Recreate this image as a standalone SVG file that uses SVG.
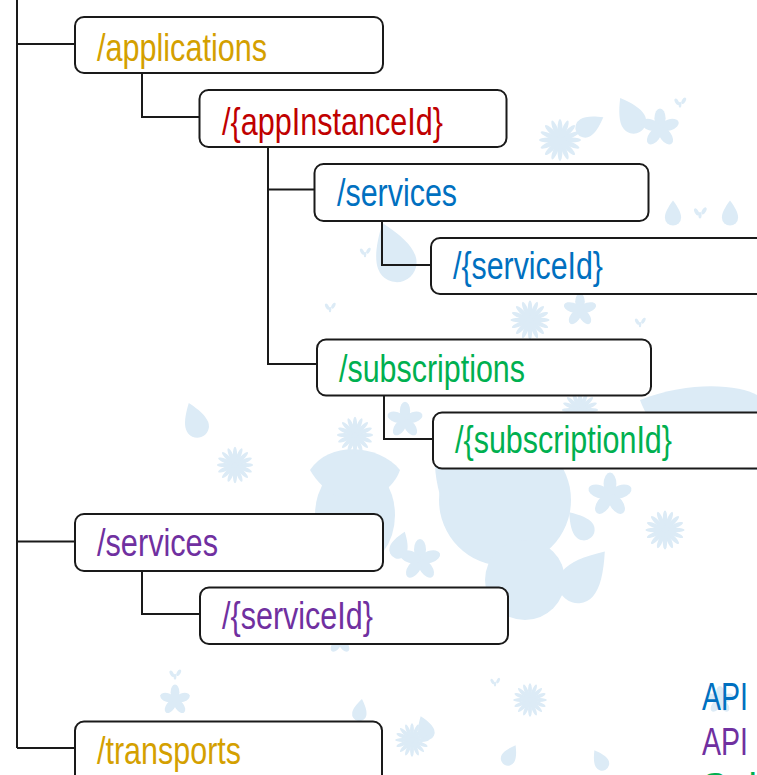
<svg xmlns="http://www.w3.org/2000/svg" xmlns:xlink="http://www.w3.org/1999/xlink" width="757" height="775" viewBox="0 0 757 775">
  <style>
    .box { fill: #ffffff; stroke: #1a1a1a; stroke-width: 2; }
    .wire { fill: none; stroke: #1a1a1a; stroke-width: 2; }
    .lbl { font-family: "Liberation Sans Narrow", "Arial Narrow", "Liberation Sans", Arial, sans-serif; font-size: 38px; }
    .gold { fill: #d4a000; }
    .red { fill: #c00000; }
    .blue { fill: #0070c0; }
    .green { fill: #00b050; }
    .purple { fill: #7030a0; }
    .deco { fill: #dcebf6; }
  </style>
  <defs>
    <!-- five-petal blossom -->
    <g id="blossom">
      <ellipse cx="0" cy="-7" rx="4" ry="7"/>
      <ellipse cx="0" cy="-7" rx="4" ry="7" transform="rotate(72)"/>
      <ellipse cx="0" cy="-7" rx="4" ry="7" transform="rotate(144)"/>
      <ellipse cx="0" cy="-7" rx="4" ry="7" transform="rotate(216)"/>
      <ellipse cx="0" cy="-7" rx="4" ry="7" transform="rotate(288)"/>
    </g>
    <!-- daisy with thin rays -->
    <g id="daisy">
      <circle r="4"/>
      <g id="rays">
        <ellipse cx="0" cy="-8" rx="1.6" ry="6"/>
        <ellipse cx="0" cy="-8" rx="1.6" ry="6" transform="rotate(22.5)"/>
        <ellipse cx="0" cy="-8" rx="1.6" ry="6" transform="rotate(45)"/>
        <ellipse cx="0" cy="-8" rx="1.6" ry="6" transform="rotate(67.5)"/>
      </g>
      <use xlink:href="#rays" transform="rotate(90)"/>
      <use xlink:href="#rays" transform="rotate(180)"/>
      <use xlink:href="#rays" transform="rotate(270)"/>
    </g>
    <!-- teardrop leaf -->
    <path id="drop" d="M0,-14 C6,-6 9,0 9,5 A9,9 0 1 1 -9,5 C-9,0 -6,-6 0,-14Z"/>
    <!-- tiny sprig -->
    <g id="sprig">
      <ellipse cx="-3" cy="0" rx="1.5" ry="3" transform="rotate(-30)"/>
      <ellipse cx="3" cy="-1" rx="1.5" ry="3" transform="rotate(30)"/>
      <ellipse cx="0" cy="4" rx="1.2" ry="2.5"/>
    </g>
  </defs>

  <rect width="757" height="775" fill="#ffffff"/>

  <!-- pale floral backdrop -->
  <g id="backdrop" class="deco">
    <circle cx="505" cy="500" r="66"/>
    <ellipse cx="355" cy="515" rx="40" ry="52"/>
    <circle cx="525" cy="580" r="40"/>
    <path d="M640,400 C690,380 740,385 757,395 L757,470 C720,470 660,455 640,400Z"/>
    <path d="M310,470 C330,440 380,445 400,470 C390,500 340,520 310,470Z"/>
    <use xlink:href="#drop" transform="translate(393,252) scale(2.2) rotate(-20)"/>
    <use xlink:href="#drop" transform="translate(455,470) scale(2.6) rotate(200)"/>
    <use xlink:href="#drop" transform="translate(585,575) scale(2.2) rotate(40)"/>
    <use xlink:href="#drop" transform="translate(673,213) scale(0.9)"/>
    <use xlink:href="#drop" transform="translate(730,213) scale(0.9)"/>
    <use xlink:href="#drop" transform="translate(630,115) scale(1.4) rotate(-30)"/>
    <use xlink:href="#drop" transform="translate(590,125) scale(1.1) rotate(60)"/>
    <use xlink:href="#drop" transform="translate(195,420) scale(1.3) rotate(-20)"/>
    <use xlink:href="#drop" transform="translate(400,545) scale(1.0) rotate(20)"/>
    <use xlink:href="#drop" transform="translate(580,525) scale(1.2) rotate(-40)"/>
    <use xlink:href="#drop" transform="translate(470,600) scale(0.9) rotate(160)"/>
    <use xlink:href="#drop" transform="translate(360,710) scale(0.8) rotate(10)"/>
    <use xlink:href="#drop" transform="translate(425,728) scale(0.9) rotate(-20)"/>
    <use xlink:href="#drop" transform="translate(510,755) scale(0.8) rotate(30)"/>
    <use xlink:href="#drop" transform="translate(600,760) scale(0.8) rotate(-30)"/>
    <use xlink:href="#drop" transform="translate(560,250) scale(1.0) rotate(40)"/>
    <use xlink:href="#drop" transform="translate(160,560) scale(0.9) rotate(-40)"/>
    <use xlink:href="#blossom" transform="translate(660,128) scale(1.4)"/>
    <use xlink:href="#blossom" transform="translate(610,495) scale(1.6)"/>
    <use xlink:href="#blossom" transform="translate(420,560) scale(1.5)"/>
    <use xlink:href="#blossom" transform="translate(405,420) scale(1.3)"/>
    <use xlink:href="#blossom" transform="translate(580,310) scale(1.2)"/>
    <use xlink:href="#blossom" transform="translate(340,640) scale(1.0)"/>
    <use xlink:href="#blossom" transform="translate(175,700) scale(1.1)"/>
    <use xlink:href="#blossom" transform="translate(720,700) scale(1.0)"/>
    <use xlink:href="#blossom" transform="translate(690,440) scale(1.1)"/>
    <use xlink:href="#daisy" transform="translate(530,320) scale(1.4)"/>
    <use xlink:href="#daisy" transform="translate(355,435) scale(1.3)"/>
    <use xlink:href="#daisy" transform="translate(235,465) scale(1.3)"/>
    <use xlink:href="#daisy" transform="translate(580,410) scale(1.3)"/>
    <use xlink:href="#daisy" transform="translate(560,140) scale(1.5)"/>
    <use xlink:href="#daisy" transform="translate(665,530) scale(1.4)"/>
    <use xlink:href="#daisy" transform="translate(412,740) scale(1.2)"/>
    <use xlink:href="#daisy" transform="translate(530,700) scale(1.2)"/>
    <use xlink:href="#daisy" transform="translate(285,615) scale(1.0)"/>
    <use xlink:href="#sprig" transform="translate(700,210) scale(1.3)"/>
    <use xlink:href="#sprig" transform="translate(680,100) scale(1.2)"/>
    <use xlink:href="#sprig" transform="translate(365,250) scale(1.1)"/>
    <use xlink:href="#sprig" transform="translate(330,305) scale(1.1)"/>
    <use xlink:href="#sprig" transform="translate(175,672) scale(1.2)"/>
    <use xlink:href="#sprig" transform="translate(470,360) scale(1.2)"/>
    <use xlink:href="#sprig" transform="translate(740,430) scale(1.0)"/>
    <use xlink:href="#sprig" transform="translate(640,320) scale(1.1)"/>
    <use xlink:href="#sprig" transform="translate(495,680) scale(1.0)"/>
    <use xlink:href="#sprig" transform="translate(230,760) scale(1.0)"/>
  </g>

  <!-- tree connectors -->
  <g id="connectors" class="wire">
    <path d="M17,0 V748"/>
    <path d="M17,44 H75"/>
    <path d="M17,541.5 H75"/>
    <path d="M17,748 H75"/>
    <path d="M142,73 V117 H199.5"/>
    <path d="M268,147 V364 H317"/>
    <path d="M268,189.5 H314.5"/>
    <path d="M382,221 V265 H431"/>
    <path d="M384,395.5 V439 H433"/>
    <path d="M142,571 V614 H200"/>
  </g>

  <g id="applications">
    <rect class="box" x="75" y="17" width="308" height="56" rx="9"/>
    <text class="lbl gold" x="97" y="61" textLength="170" lengthAdjust="spacingAndGlyphs">/applications</text>
  </g>

  <g id="appInstanceId">
    <rect class="box" x="199.5" y="90" width="307" height="57" rx="9"/>
    <text class="lbl red" x="222" y="135" textLength="221" lengthAdjust="spacingAndGlyphs">/{appInstanceId}</text>
  </g>

  <g id="app-services">
    <rect class="box" x="314.5" y="164" width="334" height="57" rx="9"/>
    <text class="lbl blue" x="337" y="206" textLength="120" lengthAdjust="spacingAndGlyphs">/services</text>
  </g>

  <g id="app-serviceId">
    <rect class="box" x="431" y="238" width="400" height="56" rx="9"/>
    <text class="lbl blue" x="453" y="279" textLength="150" lengthAdjust="spacingAndGlyphs">/{serviceId}</text>
  </g>

  <g id="subscriptions">
    <rect class="box" x="317" y="339.5" width="334" height="56" rx="9"/>
    <text class="lbl green" x="339" y="382" textLength="186" lengthAdjust="spacingAndGlyphs">/subscriptions</text>
  </g>

  <g id="subscriptionId">
    <rect class="box" x="433" y="412.5" width="400" height="56" rx="9"/>
    <text class="lbl green" x="455" y="453" textLength="217" lengthAdjust="spacingAndGlyphs">/{subscriptionId}</text>
  </g>

  <g id="services">
    <rect class="box" x="75" y="514" width="308" height="57" rx="9"/>
    <text class="lbl purple" x="97" y="556" textLength="121" lengthAdjust="spacingAndGlyphs">/services</text>
  </g>

  <g id="serviceId">
    <rect class="box" x="200" y="587.5" width="308" height="56.5" rx="9"/>
    <text class="lbl purple" x="222" y="629" textLength="151" lengthAdjust="spacingAndGlyphs">/{serviceId}</text>
  </g>

  <g id="transports">
    <rect class="box" x="75" y="721.5" width="307" height="80" rx="9"/>
    <text class="lbl gold" x="97" y="764" textLength="144" lengthAdjust="spacingAndGlyphs">/transports</text>
  </g>

  <!-- colour key -->
  <g id="legend" class="lbl">
    <text class="blue" x="702" y="710" textLength="46" lengthAdjust="spacingAndGlyphs">API</text>
    <text class="purple" x="702" y="755" textLength="46" lengthAdjust="spacingAndGlyphs">API</text>
    <text class="green" x="702" y="800">Sub</text>
  </g>
</svg>
